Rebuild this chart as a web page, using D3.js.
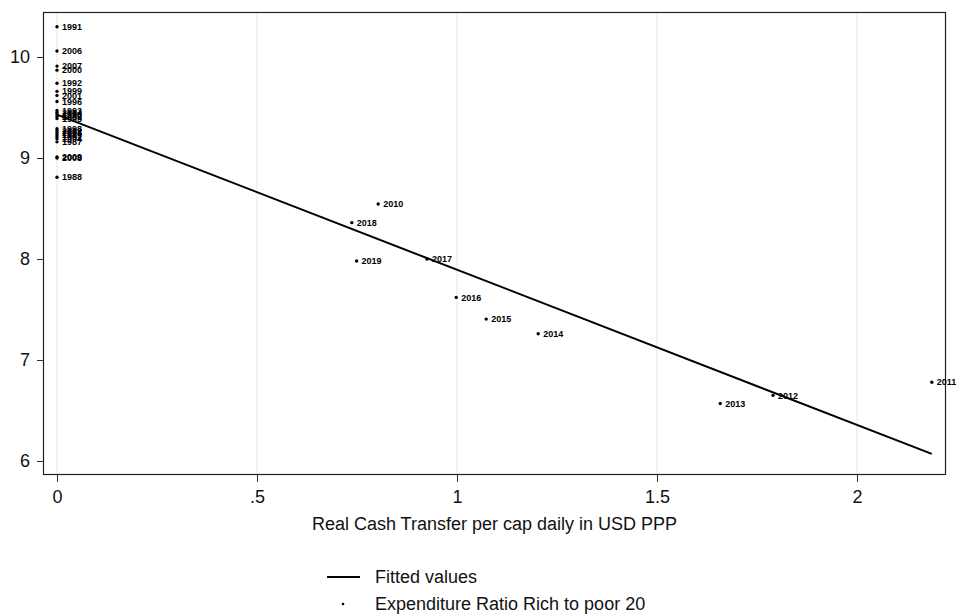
<!DOCTYPE html>
<html>
<head>
<meta charset="utf-8">
<script src="https://d3js.org/d3.v7.min.js"></script>
<style>
  body { margin: 0; background: #fff; }
  svg { font-family: "Liberation Sans", Arial, sans-serif; }
</style>
</head>
<body>
<div id="chart"></div>
<script>
// Observations: year label, real cash transfer (x), expenditure ratio (y)
const years = [1991, 2006, 2007, 2000, 1992, 1999, 2001, 1996, 1993, 2004, 1990, 2005, 1995,
    1998, 2002, 2003, 1989, 1997, 1994, 1987, 2009, 2008, 1988,
    2010, 2018, 2019, 2017, 2016, 2015, 2014, 2013, 2012, 2011];
const cashTransfer = [0, 0, 0, 0, 0, 0, 0, 0, 0, 0, 0, 0, 0,
    0, 0, 0, 0, 0, 0, 0, 0, 0, 0,
    0.803, 0.737, 0.749, 0.925, 0.998, 1.073, 1.203, 1.658, 1.79, 2.187];
const expRatio = [10.30, 10.06, 9.91, 9.87, 9.74, 9.66, 9.62, 9.56, 9.47, 9.45, 9.43, 9.41, 9.39,
    9.29, 9.27, 9.25, 9.23, 9.21, 9.19, 9.16, 9.01, 9.00, 8.81,
    8.545, 8.36, 7.98, 8.00, 7.62, 7.405, 7.26, 6.57, 6.65, 6.78];

// Fitted values line
const fitX = [0, 2.187];
const fitY = [9.43, 6.07];

const xTicks = [0, 0.5, 1, 1.5, 2];
const xTickLabels = ["0", ".5", "1", "1.5", "2"];
const yTicks = [6, 7, 8, 9, 10];

const width = 956, height = 614;
const margin = { top: 12, right: 10, bottom: 139, left: 43 };

const svg = d3.select("#chart").append("svg")
    .attr("width", width)
    .attr("height", height);

// 0 sits at x=57, 400px per unit
const x = d3.scaleLinear()
    .domain([(margin.left - 57) / 400, (width - margin.right - 57) / 400])
    .range([margin.left, width - margin.right]);

// 10 at y=57, 6 at y=461
const yRef = d3.scaleLinear().domain([6, 10]).range([461, 57]);
const y = d3.scaleLinear()
    .domain([yRef.invert(height - margin.bottom), yRef.invert(margin.top)])
    .range([height - margin.bottom, margin.top]);

// vertical grid lines
svg.append("g")
    .selectAll("line")
    .data(xTicks)
    .join("line")
    .attr("x1", d => x(d)).attr("x2", d => x(d))
    .attr("y1", margin.top).attr("y2", height - margin.bottom)
    .attr("stroke", "#e6e6e6")
    .attr("stroke-width", 1);

// x axis
const xAxis = svg.append("g")
    .attr("transform", `translate(0,${height - margin.bottom})`)
    .call(d3.axisBottom(x).tickValues(xTicks).tickFormat((d, i) => xTickLabels[i]).tickSize(7).tickPadding(8));
xAxis.select(".domain").remove();
xAxis.selectAll("text").attr("font-size", 18).attr("fill", "#111").attr("font-family", "Liberation Sans, Arial, sans-serif");
xAxis.selectAll("line").attr("stroke", "#333");

// y axis
const yAxis = svg.append("g")
    .attr("transform", `translate(${margin.left},0)`)
    .call(d3.axisLeft(y).tickValues(yTicks).tickFormat(d3.format("d")).tickSize(6).tickPadding(7));
yAxis.select(".domain").remove();
yAxis.selectAll("text").attr("font-size", 18).attr("fill", "#111").attr("font-family", "Liberation Sans, Arial, sans-serif");
yAxis.selectAll("line").attr("stroke", "#333");

// plot frame
svg.append("rect")
    .attr("x", margin.left + 0.5)
    .attr("y", margin.top + 0.5)
    .attr("width", width - margin.left - margin.right - 1)
    .attr("height", height - margin.top - margin.bottom - 1)
    .attr("fill", "none")
    .attr("stroke", "#222")
    .attr("stroke-width", 1.2);

// fitted line
const line = d3.line().x(d => x(d[0])).y(d => y(d[1]));
svg.append("path")
    .datum(fitX.map((d, i) => [d, fitY[i]]))
    .attr("d", line)
    .attr("fill", "none")
    .attr("stroke", "#000")
    .attr("stroke-width", 2);

// scatter points with year labels
const pts = svg.append("g")
    .selectAll("g")
    .data(years.map((yr, i) => ({ yr, cx: cashTransfer[i], cy: expRatio[i] })))
    .join("g")
    .attr("transform", d => `translate(${x(d.cx)},${y(d.cy)})`);

pts.append("circle")
    .attr("r", 1.7)
    .attr("fill", "#000");

pts.append("text")
    .attr("x", 5)
    .attr("dy", "0.35em")
    .attr("font-size", 9)
    .attr("font-weight", "bold")
    .attr("fill", "#000")
    .text(d => d.yr);

// x axis title
svg.append("text")
    .attr("x", (margin.left + width - margin.right) / 2)
    .attr("y", 530)
    .attr("text-anchor", "middle")
    .attr("font-size", 18)
    .attr("fill", "#111")
    .text("Real Cash Transfer per cap daily in USD PPP");

// legend
const legend = svg.append("g");
legend.append("line")
    .attr("x1", 327).attr("x2", 360)
    .attr("y1", 577).attr("y2", 577)
    .attr("stroke", "#000")
    .attr("stroke-width", 2);
legend.append("text")
    .attr("x", 375).attr("y", 583)
    .attr("font-size", 18)
    .attr("fill", "#111")
    .text("Fitted values");
legend.append("circle")
    .attr("cx", 343).attr("cy", 604)
    .attr("r", 1.3)
    .attr("fill", "#000");
legend.append("text")
    .attr("x", 375).attr("y", 610)
    .attr("font-size", 18)
    .attr("fill", "#111")
    .text("Expenditure Ratio Rich to poor 20");
</script>
</body>
</html>
